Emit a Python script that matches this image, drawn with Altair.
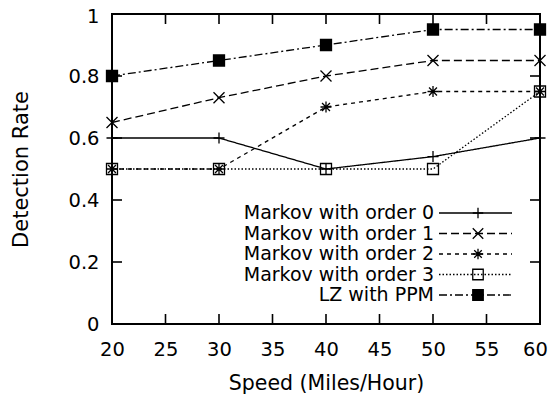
import altair as alt
import pandas as pd

# ---- data ----
speeds = [20, 30, 40, 50, 60]
series_names = [
    "Markov with order 0",
    "Markov with order 1",
    "Markov with order 2",
    "Markov with order 3",
    "LZ with PPM",
]
order0 = [0.60, 0.60, 0.50, 0.54, 0.60]
order1 = [0.65, 0.73, 0.80, 0.85, 0.85]
order2 = [0.50, 0.50, 0.70, 0.75, 0.75]
order3 = [0.50, 0.50, 0.50, 0.50, 0.75]
lz_ppm = [0.80, 0.85, 0.90, 0.95, 0.95]
x_ticks = [20, 25, 30, 35, 40, 45, 50, 55, 60]
y_ticks = [0, 0.2, 0.4, 0.6, 0.8, 1.0]

rows = []
for name, vals in zip(series_names, [order0, order1, order2, order3, lz_ppm]):
    for s, v in zip(speeds, vals):
        rows.append({"series": name, "speed": s, "rate": v})
df = pd.DataFrame(rows)
xt_df = pd.DataFrame({"speed": x_ticks})
yt_df = pd.DataFrame({"rate": y_ticks})
leg_df = pd.DataFrame({"series": series_names})

# ---- styling ----
W, H = 428, 310
FONT = "DejaVu Sans"
TICK = 10
shape_paths = [
    "M-1,0H1M0,-1V1",
    "M-1,-1L1,1M-1,1L1,-1",
    "M-1,0H1M0,-1V1M-0.72,-0.72L0.72,0.72M-0.72,0.72L0.72,-0.72",
    "square",
    "square",
]
dashes = [[1, 0], [8, 4], [4, 4], [1.5, 2], [8, 3, 2, 3]]
fills = ["transparent", "transparent", "transparent", "transparent", "black"]

shape_enc = alt.Shape("series:N", scale=alt.Scale(domain=series_names, range=shape_paths), legend=None)
dash_enc = alt.StrokeDash("series:N", scale=alt.Scale(domain=series_names, range=dashes), legend=None)
fill_enc = alt.Fill("series:N", scale=alt.Scale(domain=series_names, range=fills), legend=None)

x_enc = alt.X(
    "speed:Q",
    scale=alt.Scale(domain=[20, 60], nice=False, zero=False),
    axis=alt.Axis(values=x_ticks, title="Speed (Miles/Hour)", ticks=False, tickSize=0,
                  labelPadding=16, labelFlush=False, labelOverlap=False, domain=False, grid=False,
                  labelOffset={"condition": {"test": "datum.value == 60", "value": -5}, "value": 0},
                  labelFontSize=19.5, titleFontSize=20.5, titleY=65, titleBaseline="alphabetic"),
)
y_enc = alt.Y(
    "rate:Q",
    scale=alt.Scale(domain=[0, 1], nice=False),
    axis=alt.Axis(values=y_ticks, format="~g", title="Detection Rate", ticks=False, tickSize=0,
                  labelPadding=13, labelFlush=False, labelOverlap=False, domain=False, grid=False,
                  labelOffset={"condition": {"test": "datum.value == 1", "value": 2.5}, "value": 0},
                  labelFontSize=19.5, titleFontSize=21, titleX=-85, titleBaseline="alphabetic"),
)

lines = alt.Chart(df).mark_line(color="black", strokeWidth=1.3).encode(
    x=x_enc, y=y_enc, strokeDash=dash_enc, detail="series:N"
)
points = alt.Chart(df).mark_point(color="black", strokeWidth=1.3, size=121, opacity=1).encode(
    x=x_enc, y=y_enc, shape=shape_enc, fill=fill_enc
)

tick_style = dict(color="black", strokeWidth=1.6)
bottom_ticks = alt.Chart(xt_df).mark_rule(**tick_style).encode(x=x_enc, y=alt.value(H), y2=alt.value(H - TICK))
top_ticks = alt.Chart(xt_df).mark_rule(**tick_style).encode(x=x_enc, y=alt.value(0), y2=alt.value(TICK))
left_ticks = alt.Chart(yt_df).mark_rule(**tick_style).encode(y=y_enc, x=alt.value(0), x2=alt.value(TICK))
right_ticks = alt.Chart(yt_df).mark_rule(**tick_style).encode(y=y_enc, x=alt.value(W), x2=alt.value(W - TICK))

main = alt.layer(lines, points, bottom_ticks, top_ticks, left_ticks, right_ticks)

# ---- legend drawn inside the plot ----
leg_y = alt.Y("series:N", scale=alt.Scale(type="point", domain=series_names, range=[199, 281], padding=0), axis=None)
legend_lines = alt.Chart(leg_df).mark_rule(color="black", strokeWidth=1.3).encode(
    x=alt.value(327), x2=alt.value(400), y=leg_y, strokeDash=dash_enc
)
legend_pts = alt.Chart(leg_df).mark_point(color="black", strokeWidth=1.3, size=110, opacity=1).encode(
    x=alt.value(366), y=leg_y, shape=shape_enc, fill=fill_enc
)
legend_text = alt.Chart(leg_df).mark_text(align="right", baseline="middle", fontSize=19, font=FONT, color="black").encode(
    x=alt.value(322), y=leg_y, text="series:N"
)
legend = alt.layer(legend_lines, legend_pts, legend_text)

chart = (
    alt.layer(main, legend)
    .resolve_scale(y="independent")
    .properties(
        width=W,
        height=H,
        autosize=alt.AutoSizeParams(type="none"),
        padding={"left": 104, "top": 6, "right": 8, "bottom": 70},
        background="white",
    )
    .configure_view(stroke="black", strokeWidth=2)
    .configure_axis(labelFont=FONT, titleFont=FONT, labelColor="black", titleColor="black",
                    titleFontWeight="normal")
)

chart.save("out.html", embed_options={"renderer": "svg", "actions": False})
